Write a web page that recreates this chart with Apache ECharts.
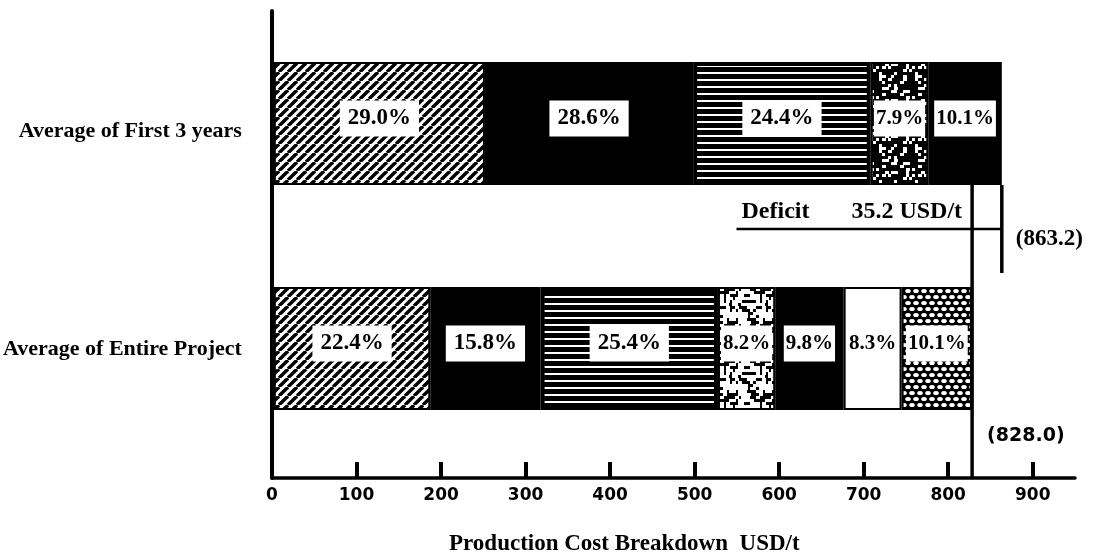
<!DOCTYPE html>
<html>
<head>
<meta charset="utf-8">
<script src="https://cdn.jsdelivr.net/npm/echarts@6/dist/echarts.min.js"></script>
<style>
  html, body { margin: 0; padding: 0; background: #fff; }
  #chart { width: 1095px; height: 560px; }
</style>
</head>
<body>
<div id="chart"></div>
<script>
// Production cost breakdown in USD per tonne, two averaging periods.
const categories = ['Average of First 3 years', 'Average of Entire Project'];
const totals = [863.2, 828.0];                                   // USD/t, full bar length
const firstYearsShares = [29.0, 28.6, 24.4, 7.9, 10.1];          // % of the total
const entireProjectShares = [22.4, 15.8, 25.4, 8.2, 9.8, 8.3, 10.1];
const deficit = 35.2;                                            // USD/t
const xTicks = [0, 100, 200, 300, 400, 500, 600, 700, 800, 900];
const axisTitle = 'Production Cost Breakdown  USD/t';

const SERIF = '"Liberation Serif", "Times New Roman", serif';
const SANS = '"DejaVu Sans", Verdana, sans-serif';
const BAR_W = 123;

// ---- fill textures -------------------------------------------------------
function tile(w, h, draw) {
  const c = document.createElement('canvas');
  c.width = w; c.height = h;
  const g = c.getContext('2d');
  draw(g, w, h);
  return { image: c, repeat: 'repeat' };
}
const hatch = tile(9, 9, (g, w, h) => {
  g.fillStyle = '#fff'; g.fillRect(0, 0, w, h);
  g.strokeStyle = '#000'; g.lineWidth = 3.4;
  for (let k = -1; k <= 1; k++) {
    g.beginPath(); g.moveTo(k * w, h); g.lineTo(k * w + w, 0); g.stroke();
  }
});
const stripes = tile(8, 7, (g, w, h) => {
  g.fillStyle = '#000'; g.fillRect(0, 0, w, h);
  g.fillStyle = '#fff'; g.fillRect(0, 2, w, 2);
});
// deterministic speckle texture (hash of the cell position)
function speckle(size, cell, threshold, seed) {
  return tile(size, size, (g) => {
    g.fillStyle = '#000'; g.fillRect(0, 0, size, size);
    g.fillStyle = '#fff';
    for (let y = 0; y < size; y += cell) {
      for (let x = 0; x < size; x += cell) {
        const v = Math.abs(Math.sin((x + seed) * 12.9898 + (y + seed * 3) * 78.233) * 43758.5453) % 1;
        if (v > threshold) g.fillRect(x, y, cell + (v > threshold + 0.12 ? 1 : 0), cell);
      }
    }
  });
}
const speckleDark = speckle(36, 3, 0.76, 7);
const speckleLight = speckle(36, 3, 0.5, 13);
const dots = tile(8, 12, (g, w, h) => {
  g.fillStyle = '#000'; g.fillRect(0, 0, w, h);
  g.fillStyle = '#fff';
  const ell = (cx, cy) => { g.beginPath(); g.ellipse(cx, cy, 2.8, 2.1, 0, 0, Math.PI * 2); g.fill(); };
  ell(4, 3); ell(0, 9); ell(8, 9);
});

const topFills = [hatch, '#000', stripes, speckleDark, '#000'];
const bottomFills = [hatch, '#000', stripes, speckleLight, '#000', '#fff', dots];

// ---- stacked segments ----------------------------------------------------
function segment(shares, total, fills, i) {
  if (shares[i] == null) return '-';
  return {
    value: total * shares[i] / 100,
    share: shares[i],
    itemStyle: { color: fills[i], borderWidth: fills[i] === stripes ? 4 : 2 }
  };
}
const slotCount = Math.max(firstYearsShares.length, entireProjectShares.length);
const series = [];
for (let i = 0; i < slotCount; i++) {
  const wide = i < 3;
  series.push({
    type: 'bar',
    xAxisIndex: 0,
    yAxisIndex: 0,
    stack: 'cost',
    barWidth: BAR_W,
    animation: false,
    emphasis: { disabled: true },
    itemStyle: { borderColor: '#000', borderWidth: 2 },
    label: {
      show: true,
      position: 'inside',
      formatter: (p) => p.data.share.toFixed(1) + '%',
      color: '#000',
      fontFamily: SERIF,
      fontWeight: 'bold',
      fontSize: wide ? 23 : 21,
      lineHeight: wide ? 26 : 24,
      backgroundColor: '#fff',
      padding: wide ? [5, 8] : [6, 2],
      offset: [0, -5]
    },
    data: [
      segment(firstYearsShares, totals[0], topFills, i),
      segment(entireProjectShares, totals[1], bottomFills, i)
    ]
  });
}

const catFont = { fontFamily: SERIF, fontWeight: 'bold', fontSize: 22, color: '#000' };

const chart = echarts.init(document.getElementById('chart'), null, { renderer: 'canvas' });
chart.setOption({
  backgroundColor: '#fff',
  animation: false,
  title: {
    text: axisTitle,
    left: 449,
    top: 533,
    padding: 0,
    textStyle: { fontFamily: SERIF, fontSize: 23, fontWeight: 'bold', color: '#000' }
  },
  grid: [
    { left: 272, right: 20, top: 11, bottom: 99 },   // bars
    { left: 272, right: 20, top: 11, bottom: 82 }    // frame axes
  ],
  xAxis: [
    { type: 'value', gridIndex: 0, min: 0, max: 950, show: false },
    {
      type: 'value', gridIndex: 1, min: 0, max: 950, interval: 100,
      axisLine: { show: true, onZero: false, lineStyle: { color: '#000', width: 3.5 } },
      axisTick: { show: true, inside: true, length: 16, customValues: xTicks,
        lineStyle: { color: '#000', width: 4 } },
      axisLabel: { customValues: xTicks, color: '#000', fontFamily: SANS, fontWeight: 'bold',
        fontSize: 17, margin: 9 },
      splitLine: { show: false }
    }
  ],
  yAxis: [
    {
      type: 'category', gridIndex: 0, inverse: true, data: categories,
      axisLine: { show: false }, axisTick: { show: false },
      axisLabel: {
        ...catFont,
        margin: 32,
        formatter: (v, idx) => (idx === 0 ? '{lo|' : '{hi|') + v + '}',
        rich: {
          lo: { ...catFont, padding: [16, 0, 0, 0] },
          hi: { ...catFont, padding: [2, 0, 0, 0] }
        }
      }
    },
    {
      type: 'value', gridIndex: 1, min: 0, max: 1,
      axisLine: { show: true, lineStyle: { color: '#000', width: 4 } },
      axisTick: { show: false }, axisLabel: { show: false }, splitLine: { show: false }
    }
  ],
  series
});

// ---- totals and deficit annotations, placed through the axes -------------
const px828 = chart.convertToPixel({ xAxisIndex: 0 }, totals[1]);
const px863 = chart.convertToPixel({ xAxisIndex: 0 }, totals[0]);
const yTop = chart.convertToPixel({ yAxisIndex: 0 }, categories[0]);
const yBot = chart.convertToPixel({ yAxisIndex: 0 }, categories[1]);
const axisY = chart.convertToPixel({ yAxisIndex: 1 }, 0);
const topBarBottom = yTop + BAR_W / 2;
const botBarTop = yBot - BAR_W / 2;
const botBarBottom = yBot + BAR_W / 2;

const deficitText = 'Deficit       ' + deficit.toFixed(1) + ' USD/t';
const deficitFont = 'bold 24px ' + SERIF;
const meas = document.createElement('canvas').getContext('2d');
meas.font = deficitFont;
const deficitRight = px828 - 10;
const deficitLeft = deficitRight - meas.measureText(deficitText).width;
const lineStyle = { stroke: '#000', lineWidth: 3.5 };

chart.setOption({
  graphic: [
    { type: 'line', z: 10, shape: { x1: px828, y1: topBarBottom, x2: px828, y2: axisY }, style: lineStyle },
    { type: 'line', z: 10, shape: { x1: px863, y1: topBarBottom, x2: px863, y2: botBarTop - 14 }, style: lineStyle },
    { type: 'line', z: 10, shape: { x1: deficitLeft - 5, y1: topBarBottom + 44, x2: px863, y2: topBarBottom + 44 },
      style: { stroke: '#000', lineWidth: 2.5 } },
    { type: 'text', z: 10, style: { text: deficitText, x: deficitRight, y: topBarBottom + 27,
      font: deficitFont, fill: '#000', align: 'right', verticalAlign: 'middle' } },
    { type: 'text', z: 10, style: { text: '(' + totals[0].toFixed(1) + ')', x: px863 + 14,
      y: (topBarBottom + botBarTop) / 2 + 3, font: 'bold 23px ' + SERIF, fill: '#000',
      align: 'left', verticalAlign: 'middle' } },
    { type: 'text', z: 10, style: { text: '(' + totals[1].toFixed(1) + ')', x: px828 + 15,
      y: (botBarBottom + axisY) / 2 - 8, font: 'bold 19px ' + SANS, fill: '#000',
      align: 'left', verticalAlign: 'middle' } }
  ]
});
</script>
</body>
</html>
